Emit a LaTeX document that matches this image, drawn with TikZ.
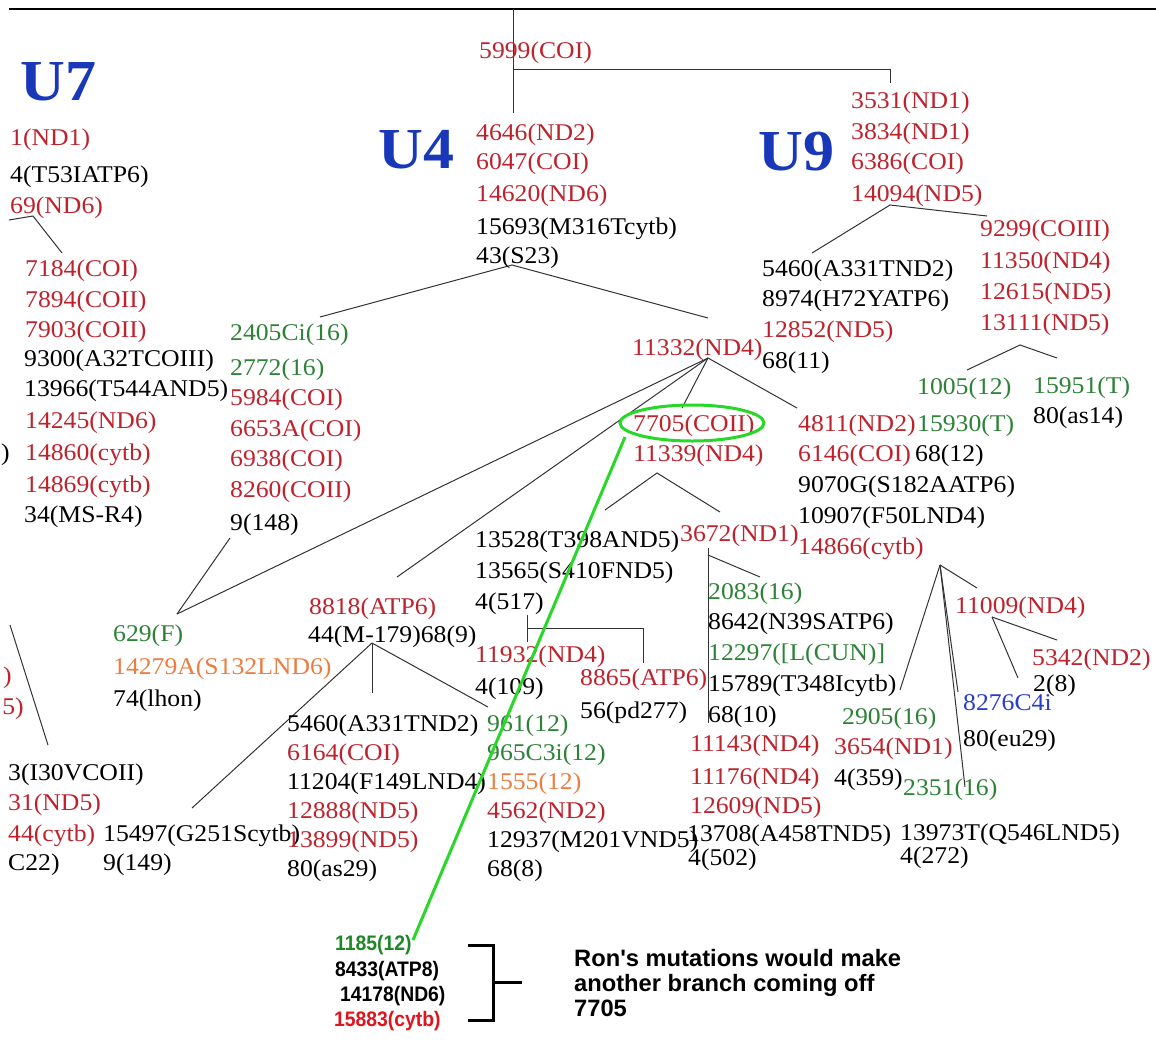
\documentclass[tikz,border=0pt]{standalone}
\usepackage{fontspec}
\setmainfont{Liberation Serif}[FakeStretch=1.07]
\newfontfamily\lsans{Liberation Sans}
\newfontfamily\lsansn{Liberation Sans}[FakeStretch=0.92]
\definecolor{tred}{RGB}{190,35,45}
\definecolor{tgreen}{RGB}{45,130,55}
\definecolor{torange}{RGB}{235,125,65}
\definecolor{tblue}{RGB}{25,55,185}
\definecolor{lblue}{RGB}{40,60,205}
\definecolor{lgreen}{RGB}{40,215,40}
\definecolor{bred}{RGB}{225,20,30}
\definecolor{bgreen}{RGB}{30,135,40}
\begin{document}
\begin{tikzpicture}[x=1pt,y=-1pt,
  base/.style={anchor=west, inner sep=0pt, text height=16pt, text depth=0pt, font=\fontsize{24}{29}\selectfont},
  rtx/.style={base,text=tred},
  gtx/.style={base,text=tgreen},
  otx/.style={base,text=torange},
  ktx/.style={base,text=black},
  btx/.style={base,text=lblue},
  biglab/.style={anchor=base west, inner sep=0pt, text=tblue, font=\fontsize{58}{58}\selectfont\bfseries},
  sbase/.style={anchor=west, inner sep=0pt, text height=15pt, text depth=0pt, font=\lsansn\bfseries\fontsize{21}{25}\selectfont},
  note/.style={anchor=west, inner sep=0pt, text height=17pt, text depth=0pt, font=\lsans\bfseries\fontsize{23.7}{26}\selectfont},
  link/.style={draw=black!80, line width=1pt},
  thick link/.style={draw=black, line width=2pt},
  mark green/.style={draw=lgreen, line width=3pt},
]
\useasboundingbox (0,0) rectangle (1156,1063);
\fill[white] (0,0) rectangle (1156,1063);

% ---------- junction coordinates ----------
\coordinate (topL) at (9,9);
\coordinate (topR) at (1156,9);
\coordinate (root) at (513,9);
\coordinate (u4top) at (513,113);
\coordinate (j69) at (513,69);
\coordinate (u9corner) at (890,69);
\coordinate (u9top) at (890,83);
\coordinate (j43) at (512,265);
\coordinate (e2405) at (320,317);
\coordinate (e11332) at (708,318);
\coordinate (j14094) at (890,205);
\coordinate (e5460u9) at (812,253);
\coordinate (e9299) at (987,216);
\coordinate (j11332) at (708,358);
\coordinate (e7705) at (682,408);
\coordinate (e4811) at (797,408);
\coordinate (v629) at (177,614);
\coordinate (e8818) at (397,577);
\coordinate (e9148) at (230,538);
\coordinate (c1a) at (605,510);
\coordinate (c1b) at (657,473);
\coordinate (c1c) at (720,512);
\coordinate (b1a) at (527,615);
\coordinate (b1b) at (527,642);
\coordinate (b1m) at (527,628);
\coordinate (b1c) at (643,628);
\coordinate (b1d) at (643,663);
\coordinate (j44) at (372,643);
\coordinate (e5460) at (372,693);
\coordinate (e961) at (488,707);
\coordinate (e15497) at (192,808);
\coordinate (j3672) at (708,548);
\coordinate (e3672v) at (708,723);
\coordinate (j3672d) at (708,555);
\coordinate (e2083) at (760,577);
\coordinate (c2a) at (967,370);
\coordinate (c2b) at (1020,345);
\coordinate (c2c) at (1057,358);
\coordinate (j14866) at (940,565);
\coordinate (e11009) at (977,588);
\coordinate (e15789) at (900,690);
\coordinate (e8276) at (958,692);
\coordinate (e2351) at (965,787);
\coordinate (j11009) at (992,617);
\coordinate (e28) at (1018,678);
\coordinate (e5342) at (1057,640);
\coordinate (u7a) at (9,220);
\coordinate (u7b) at (33,216);
\coordinate (u7c) at (62,253);
\coordinate (l1a) at (10,625);
\coordinate (l1b) at (48,745);
\coordinate (g1) at (625,437);
\coordinate (g2) at (413,940);
\coordinate (k1) at (468,945);
\coordinate (k2) at (493,945);
\coordinate (k3) at (493,1020);
\coordinate (k4) at (468,1020);
\coordinate (k5) at (493,982);
\coordinate (k6) at (522,982);

% ---------- connectors ----------
\draw[thick link] (topL) -- (topR);
\draw[link] (root) -- (u4top);
\draw[link] (j69) -- (u9corner) -- (u9top);
\draw[link] (e2405) -- (j43) -- (e11332);
\draw[link] (e5460u9) -- (j14094) -- (e9299);
\draw[link] (j11332) -- (e7705);
\draw[link] (j11332) -- (e4811);
\draw[link] (j11332) -- (v629);
\draw[link] (j11332) -- (e8818);
\draw[link] (e9148) -- (v629);
\draw[link] (c1a) -- (c1b) -- (c1c);
\draw[link] (b1a) -- (b1b);
\draw[link] (b1m) -- (b1c) -- (b1d);
\draw[link] (j44) -- (e5460);
\draw[link] (j44) -- (e961);
\draw[link] (j44) -- (e15497);
\draw[link] (j3672) -- (e3672v);
\draw[link] (j3672d) -- (e2083);
\draw[link] (c2a) -- (c2b) -- (c2c);
\draw[link] (j14866) -- (e11009);
\draw[link] (j14866) -- (e15789);
\draw[link] (j14866) -- (e8276);
\draw[link] (j14866) -- (e2351);
\draw[link] (j11009) -- (e28);
\draw[link] (j11009) -- (e5342);
\draw[link] (u7a) -- (u7b) -- (u7c);
\draw[link] (l1a) -- (l1b);

% ---------- big labels ----------
\node[biglab] (U7) at (20,100) {U7};
\node[biglab] (U4) at (378,168) {U4};
\node[biglab] (U9) at (758,170) {U9};

% ---------- top ----------
\node[rtx] (n5999) at (479,50) {5999(COI)};

% ---------- U4 ----------
\node[rtx] (n4646) at (476,132) {4646(ND2)};
\node[rtx] (n6047) at (476,161) {6047(COI)};
\node[rtx] (n14620) at (476,193) {14620(ND6)};
\node[ktx] (n15693) at (476,226) {15693(M316Tcytb)};
\node[ktx] (n43) at (476,255) {43(S23)};

% ---------- U9 ----------
\node[rtx] (n3531) at (851,100) {3531(ND1)};
\node[rtx] (n3834) at (851,131) {3834(ND1)};
\node[rtx] (n6386) at (851,161) {6386(COI)};
\node[rtx] (n14094) at (851,193) {14094(ND5)};

\node[rtx] (n9299) at (980,228) {9299(COIII)};
\node[rtx] (n11350) at (980,260) {11350(ND4)};
\node[rtx] (n12615) at (980,291) {12615(ND5)};
\node[rtx] (n13111) at (980,322) {13111(ND5)};

\node[ktx] (n5460b) at (762,268) {5460(A331TND2)};
\node[ktx] (n8974) at (762,298) {8974(H72YATP6)};
\node[rtx] (n12852) at (762,329) {12852(ND5)};
\node[ktx] (n6811) at (762,360) {68(11)};

\node[gtx] (n1005) at (917,386) {1005(12)};
\node[gtx] (n15930) at (917,423) {15930(T)};
\node[gtx] (n15951) at (1033,385) {15951(T)};
\node[ktx] (n80as14) at (1033,415) {80(as14)};

% ---------- 11332 ----------
\node[rtx] (n11332) at (632,347) {11332(ND4)};
\node[rtx] (n7705) at (633,423) {7705(COII)};
\node[rtx] (n11339) at (633,453) {11339(ND4)};
\draw[mark green] (692,423) ellipse [x radius=72, y radius=18];

\node[rtx] (n4811) at (798,423) {4811(ND2)};
\node[rtx] (n6146) at (798,453) {6146(COI)};
\node[ktx] (n6812) at (915,453) {68(12)};
\node[ktx] (n9070) at (798,484) {9070G(S182AATP6)};
\node[ktx] (n10907) at (798,515) {10907(F50LND4)};
\node[rtx] (n14866) at (798,546) {14866(cytb)};

% ---------- 2405 group ----------
\node[gtx] (n2405) at (230,332) {2405Ci(16)};
\node[gtx] (n2772) at (230,367) {2772(16)};
\node[rtx] (n5984) at (230,397) {5984(COI)};
\node[rtx] (n6653) at (230,428) {6653A(COI)};
\node[rtx] (n6938) at (230,458) {6938(COI)};
\node[rtx] (n8260) at (230,489) {8260(COII)};
\node[ktx] (n9148) at (230,522) {9(148)};

% ---------- U7 ----------
\node[rtx] (n1nd1) at (10,137) {1(ND1)};
\node[ktx] (n4t53) at (10,174) {4(T53IATP6)};
\node[rtx] (n69) at (10,205) {69(ND6)};
\node[rtx] (n7184) at (25,268) {7184(COI)};
\node[rtx] (n7894) at (25,299) {7894(COII)};
\node[rtx] (n7903) at (25,329) {7903(COII)};
\node[ktx] (n9300) at (24,358) {9300(A32TCOIII)};
\node[ktx] (n13966) at (24,388) {13966(T544AND5)};
\node[rtx] (n14245) at (25,420) {14245(ND6)};
\node[rtx] (n14860) at (25,452) {14860(cytb)};
\node[rtx] (n14869) at (25,484) {14869(cytb)};
\node[ktx] (n34) at (24,514) {34(MS-R4)};
\node[ktx,anchor=east] (p1) at (10,452) {)};

% ---------- left bottom ----------
\node[rtx,anchor=east] (p2) at (12,675) {)};
\node[rtx,anchor=east] (p3) at (24,706) {5)};
\node[ktx] (n3i30) at (8,772) {3(I30VCOII)};
\node[rtx] (n31) at (8,802) {31(ND5)};
\node[rtx] (n44c) at (8,833) {44(cytb)};
\node[ktx] (nc22) at (8,862) {C22)};
\node[ktx] (n15497) at (103,833) {15497(G251Scytb)};
\node[ktx] (n9149) at (103,862) {9(149)};

% ---------- 629 ----------
\node[gtx] (n629) at (113,633) {629(F)};
\node[otx] (n14279) at (113,666) {14279A(S132LND6)};
\node[ktx] (n74) at (113,698) {74(lhon)};

% ---------- 8818 / 44 ----------
\node[rtx] (n8818) at (309,606) {8818(ATP6)};
\node[ktx] (n44m) at (308,634) {44(M-179)68(9)};
\node[ktx] (n5460) at (287,723) {5460(A331TND2)};
\node[rtx] (n6164) at (287,752) {6164(COI)};
\node[ktx] (n11204) at (287,781) {11204(F149LND4)};
\node[rtx] (n12888) at (287,810) {12888(ND5)};
\node[rtx] (n13899) at (287,839) {13899(ND5)};
\node[ktx] (n80as29) at (287,868) {80(as29)};

\node[gtx] (n961) at (487,723) {961(12)};
\node[gtx] (n965) at (487,752) {965C3i(12)};
\node[otx] (n1555) at (487,781) {1555(12)};
\node[rtx] (n4562) at (487,810) {4562(ND2)};
\node[ktx] (n12937) at (487,839) {12937(M201VND5)};
\node[ktx] (n688) at (487,868) {68(8)};

% ---------- 13528 ----------
\node[ktx] (n13528) at (475,539) {13528(T398AND5)};
\node[ktx] (n13565) at (475,570) {13565(S410FND5)};
\node[ktx] (n4517) at (475,601) {4(517)};
\node[rtx] (n11932) at (475,654) {11932(ND4)};
\node[ktx] (n4109) at (475,686) {4(109)};
\node[rtx] (n8865) at (580,677) {8865(ATP6)};
\node[ktx] (n56) at (580,710) {56(pd277)};

% ---------- 3672 ----------
\node[rtx] (n3672) at (680,533) {3672(ND1)};
\node[gtx] (n2083) at (708,591) {2083(16)};
\node[ktx] (n8642) at (708,621) {8642(N39SATP6)};
\node[gtx] (n12297) at (708,652) {12297([L(CUN)]};
\node[ktx] (n15789) at (708,683) {15789(T348Icytb)};
\node[ktx] (n6810) at (708,714) {68(10)};
\node[rtx] (n11143) at (690,743) {11143(ND4)};
\node[rtx] (n11176) at (690,776) {11176(ND4)};
\node[rtx] (n12609) at (690,805) {12609(ND5)};
\node[ktx] (n13708) at (687,833) {13708(A458TND5)};
\node[ktx] (n4502) at (688,857) {4(502)};

% ---------- 14866 subtree ----------
\node[rtx] (n11009) at (955,605) {11009(ND4)};
\node[rtx] (n5342) at (1032,657) {5342(ND2)};
\node[ktx] (n28) at (1033,683) {2(8)};
\node[btx] (n8276) at (963,702) {8276C4i};
\node[ktx] (n80eu29) at (963,738) {80(eu29)};
\node[gtx] (n2905) at (842,716) {2905(16)};
\node[rtx] (n3654) at (834,746) {3654(ND1)};
\node[ktx] (n4359) at (834,777) {4(359)};
\node[gtx] (n2351) at (903,787) {2351(16)};
\node[ktx] (n13973) at (900,832) {13973T(Q546LND5)};
\node[ktx] (n4272) at (900,855) {4(272)};

% ---------- Ron's branch ----------
\draw[draw=lgreen, line width=3pt] (g1) -- (g2);
\node[sbase,text=bgreen] (r1185) at (335,943) {1185(12)};
\node[sbase,text=black] (r8433) at (335,969) {8433(ATP8)};
\node[sbase,text=black] (r14178) at (340,994) {14178(ND6)};
\node[sbase,text=bred] (r15883) at (334,1019) {15883(cytb)};
\draw[draw=black, line width=3pt] (k1) -- (k2) -- (k3) -- (k4);
\draw[draw=black, line width=3pt] (k5) -- (k6);
\node[note] (note1) at (574,958) {Ron's mutations would make};
\node[note] (note2) at (574,983) {another branch coming off};
\node[note] (note3) at (574,1008) {7705};
\end{tikzpicture}
\end{document}
